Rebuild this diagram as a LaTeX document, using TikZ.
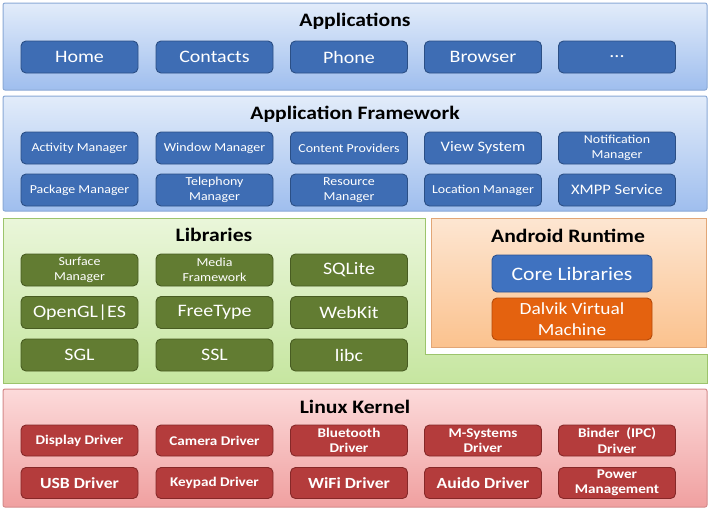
\documentclass[tikz,border=0pt]{standalone}
\usepackage{fontspec}
\setmainfont{Carlito}[FakeStretch=1.14]
\definecolor{appTop}{HTML}{E2ECFA}
\definecolor{appBot}{HTML}{9FBEEE}
\definecolor{appLine}{HTML}{8AA9D6}
\definecolor{blueBtn}{HTML}{3E6DB4}
\definecolor{blueBtnLine}{HTML}{2B4F85}
\definecolor{libTop}{HTML}{EAF6DA}
\definecolor{libBot}{HTML}{C6E6A0}
\definecolor{libLine}{HTML}{9CC46C}
\definecolor{greenBtn}{HTML}{627C32}
\definecolor{greenBtnLine}{HTML}{485C22}
\definecolor{artTop}{HTML}{FDE6D2}
\definecolor{artBot}{HTML}{FBC28E}
\definecolor{artLine}{HTML}{E2A676}
\definecolor{coreBtn}{HTML}{3F72C0}
\definecolor{coreBtnLine}{HTML}{2C5290}
\definecolor{dalBtn}{HTML}{E4620F}
\definecolor{dalBtnLine}{HTML}{B44A0A}
\definecolor{knTop}{HTML}{FCDADA}
\definecolor{knBot}{HTML}{F0A0A0}
\definecolor{knLine}{HTML}{D48A8A}
\definecolor{redBtn}{HTML}{B43C3C}
\definecolor{redBtnLine}{HTML}{862828}
\tikzset{
  btn/.style={draw, line width=0.9pt, rounded corners=5pt, minimum width=117pt, minimum height=32pt,
    inner sep=1pt, text=white, align=center},
  bluebtn/.style={btn, fill=blueBtn, draw=blueBtnLine},
  greenbtn/.style={btn, fill=greenBtn, draw=greenBtnLine},
  redbtn/.style={btn, fill=redBtn, draw=redBtnLine, minimum height=31pt, font=\bfseries\fontsize{13.3}{15.5}\selectfont},
  layertitle/.style={font=\bfseries\fontsize{19}{19}\selectfont, text=black},
  small/.style={font=\fontsize{12.2}{15.5}\selectfont},
  mid/.style={font=\fontsize{14.5}{15}\selectfont},
  big/.style={font=\fontsize{17.5}{17}\selectfont},
}
\begin{document}
\begin{tikzpicture}[x=1pt,y=-1pt]
\useasboundingbox (0,0) rectangle (711,512);
\fill[white] (0,0) rectangle (711,512);
% Applications layer
\shade[top color=appTop, bottom color=appBot, rounded corners=2pt] (3,3) rectangle (707,90);
\draw[appLine, line width=1pt, rounded corners=2pt] (3,3) rectangle (707,90);
\node[layertitle] (tApps) at (355,21) {Applications};
\node[bluebtn, big] (home) at (79.5,57) {Home};
\node[bluebtn, big] (contacts) at (214.5,57) {Contacts};
\node[bluebtn, big] (phone) at (349,57) {Phone};
\node[bluebtn, big] (browser) at (483,57) {Browser};
\node[bluebtn, big] (more) at (617,57) {...};
% Application Framework layer
\shade[top color=appTop, bottom color=appBot, rounded corners=2pt] (3,96) rectangle (707,211);
\draw[appLine, line width=1pt, rounded corners=2pt] (3,96) rectangle (707,211);
\node[layertitle] (tFw) at (355,114) {Application Framework};
\node[bluebtn, small] (activity) at (79.5,148) {Activity Manager};
\node[bluebtn, small] (window) at (214.5,148) {Window Manager};
\node[bluebtn, small] (content) at (349,148) {Content Providers};
\node[bluebtn, mid] (view) at (483,148) {View System};
\node[bluebtn, small] (notif) at (617,148) {Notification\\Manager};
\node[bluebtn, small] (package) at (79.5,190) {Package Manager};
\node[bluebtn, small] (tele) at (214.5,190) {Telephony\\Manager};
\node[bluebtn, small] (resource) at (349,190) {Resource\\Manager};
\node[bluebtn, small] (location) at (483,190) {Location Manager};
\node[bluebtn, mid] (xmpp) at (617,190) {XMPP Service};
% Libraries layer (L-shape)
\shade[top color=libTop, bottom color=libBot] (3,218) -- (425,218) -- (425,354) -- (707,354) -- (707,383) -- (3,383) -- cycle;
\draw[libLine, line width=1pt] (3,218) -- (425,218) -- (425,354) -- (707,354) -- (707,383) -- (3,383) -- cycle;
\node[layertitle] (tLib) at (214,235) {Libraries};
\node[greenbtn, small] (surface) at (79.5,270) {Surface\\Manager};
\node[greenbtn, small] (media) at (214.5,270) {Media\\Framework};
\node[greenbtn, big] (sqlite) at (349,270) {SQLite};
\node[greenbtn, big] (opengl) at (79.5,312.5) {OpenGL|ES};
\node[greenbtn, big] (freetype) at (214.5,312.5) {FreeType};
\node[greenbtn, big] (webkit) at (349,312.5) {WebKit};
\node[greenbtn, big] (sgl) at (79.5,355) {SGL};
\node[greenbtn, big] (ssl) at (214.5,355) {SSL};
\node[greenbtn, big] (libc) at (349,355) {libc};
% Android Runtime
\shade[top color=artTop, bottom color=artBot] (431,218) rectangle (706,347);
\draw[artLine, line width=1pt] (431,218) rectangle (706,347);
\node[layertitle] (tArt) at (568,236) {Android Runtime};
\node[btn, fill=coreBtn, draw=coreBtnLine, minimum width=160pt, minimum height=37pt, font=\fontsize{19}{19}\selectfont] (core) at (572,273.5) {Core Libraries};
\node[btn, fill=dalBtn, draw=dalBtnLine, minimum width=160pt, minimum height=42pt, font=\fontsize{17}{21}\selectfont] (dalvik) at (572,319) {Dalvik Virtual\\Machine};
% Linux Kernel
\shade[top color=knTop, bottom color=knBot, rounded corners=2pt] (3,389) rectangle (707,507);
\draw[knLine, line width=1pt, rounded corners=2pt] (3,389) rectangle (707,507);
\node[layertitle] (tKn) at (355,407) {Linux Kernel};
\node[redbtn] (display) at (79.5,440.5) {Display Driver};
\node[redbtn] (camera) at (214.5,440.5) {Camera Driver};
\node[redbtn] (bluetooth) at (349,440.5) {Bluetooth\\Driver};
\node[redbtn] (msys) at (483,440.5) {M-Systems\\Driver};
\node[redbtn] (binder) at (617,440.5) {Binder\ \ (IPC)\\Driver};
\node[redbtn, font=\bfseries\fontsize{15.5}{15}\selectfont] (usb) at (79.5,483) {USB Driver};
\node[redbtn] (keypad) at (214.5,483) {Keypad Driver};
\node[redbtn, font=\bfseries\fontsize{15.5}{15}\selectfont] (wifi) at (349,483) {WiFi Driver};
\node[redbtn, font=\bfseries\fontsize{15.5}{15}\selectfont] (audio) at (483,483) {Auido Driver};
\node[redbtn] (power) at (617,483) {Power\\Management};
\end{tikzpicture}
\end{document}
